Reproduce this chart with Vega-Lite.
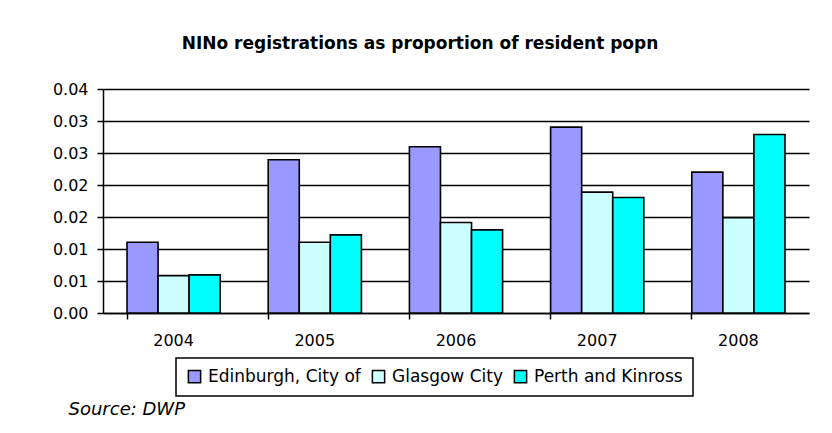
{
  "$schema": "https://vega.github.io/schema/vega-lite/v6.json",
  "autosize": {"type": "none"},
  "width": 706,
  "height": 224,
  "padding": {"left": 103, "top": 89, "right": 23, "bottom": 120},
  "background": "white",
  "title": {
    "text": "NINo registrations as proportion of resident popn",
    "font": "DejaVu Sans",
    "fontSize": 17,
    "fontWeight": "bold",
    "color": "#000000",
    "anchor": "middle",
    "dx": -36,
    "offset": 28
  },
  "data": {
    "values": [
      {"year": "2004", "area": "Edinburgh, City of", "value": 0.01106},
      {"year": "2004", "area": "Glasgow City", "value": 0.00584},
      {"year": "2004", "area": "Perth and Kinross", "value": 0.00595},
      {"year": "2005", "area": "Edinburgh, City of", "value": 0.02394},
      {"year": "2005", "area": "Glasgow City", "value": 0.01106},
      {"year": "2005", "area": "Perth and Kinross", "value": 0.0122},
      {"year": "2006", "area": "Edinburgh, City of", "value": 0.02597},
      {"year": "2006", "area": "Glasgow City", "value": 0.01413},
      {"year": "2006", "area": "Perth and Kinross", "value": 0.01299},
      {"year": "2007", "area": "Edinburgh, City of", "value": 0.02905},
      {"year": "2007", "area": "Glasgow City", "value": 0.01888},
      {"year": "2007", "area": "Perth and Kinross", "value": 0.01805},
      {"year": "2008", "area": "Edinburgh, City of", "value": 0.02201},
      {"year": "2008", "area": "Glasgow City", "value": 0.01491},
      {"year": "2008", "area": "Perth and Kinross", "value": 0.0279}
    ]
  },
  "mark": {"type": "bar", "stroke": "#000000", "strokeWidth": 1.6},
  "encoding": {
    "x": {
      "field": "year",
      "type": "nominal",
      "scale": {"paddingInner": 0.34, "paddingOuter": 0.17},
      "axis": {
        "title": "Source: DWP",
        "titleFont": "DejaVu Sans",
        "titleFontSize": 18,
        "titleFontStyle": "italic",
        "titleFontWeight": "normal",
        "titleColor": "#000000",
        "titleAnchor": "start",
        "titleAlign": "left",
        "titleX": -35,
        "titleY": 87,
        "labelAngle": 0,
        "labelFont": "DejaVu Sans",
        "labelFontSize": 16,
        "labelColor": "#000000",
        "labelPadding": 13,
        "bandPosition": 0,
        "ticks": true,
        "tickSize": 6,
        "tickColor": "#000000",
        "tickWidth": 1.5,
        "domainColor": "#000000",
        "domainWidth": 1.5,
        "grid": false
      }
    },
    "xOffset": {"field": "area", "type": "nominal", "scale": {"paddingInner": 0, "paddingOuter": 0}},
    "y": {
      "field": "value",
      "type": "quantitative",
      "scale": {"domain": [0, 0.035], "nice": false, "zero": true},
      "axis": {
        "title": null,
        "values": [0, 0.005, 0.01, 0.015, 0.02, 0.025, 0.03, 0.035],
        "labelExpr": "format(round(datum.value * 100) / 100, '.2f')",
        "labelFont": "DejaVu Sans",
        "labelFontSize": 16,
        "labelColor": "#000000",
        "labelPadding": 9,
        "tickSize": 6,
        "tickColor": "#000000",
        "tickWidth": 1.5,
        "domainColor": "#000000",
        "domainWidth": 1.5,
        "grid": true,
        "gridColor": "#000000",
        "gridWidth": 1.4,
        "gridOpacity": 1
      }
    },
    "fill": {
      "field": "area",
      "type": "nominal",
      "scale": {
        "domain": ["Edinburgh, City of", "Glasgow City", "Perth and Kinross"],
        "range": ["#9999FF", "#CCFFFF", "#00FFFF"]
      },
      "legend": {
        "title": null,
        "orient": "none",
        "direction": "horizontal",
        "legendX": 73,
        "legendY": 269,
        "symbolType": "square",
        "symbolSize": 150,
        "symbolStrokeColor": "#000000",
        "symbolStrokeWidth": 1.5,
        "labelFont": "DejaVu Sans",
        "labelFontSize": 17,
        "labelColor": "#000000",
        "labelLimit": 300,
        "labelOffset": 5,
        "columnPadding": 8,
        "strokeColor": "#000000",
        "padding": 10,
        "fillColor": "white"
      }
    }
  },
  "config": {
    "view": {"stroke": null},
    "legend": {"strokeWidth": 1.5}
  }
}
